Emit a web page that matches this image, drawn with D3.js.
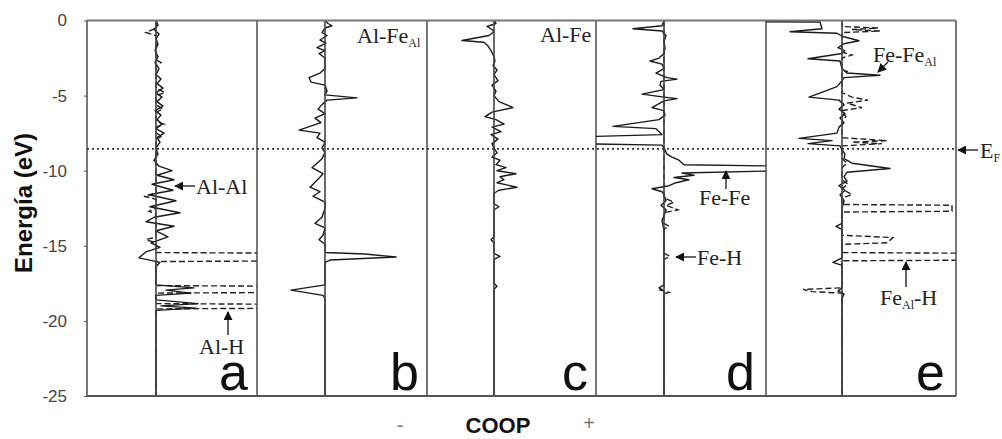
<!DOCTYPE html>
<html><head><meta charset="utf-8">
<script src="https://cdn.jsdelivr.net/npm/d3@7"></script>
<style>body{margin:0;background:#fff}svg{display:block}</style>
</head><body>
<script>
// ---------- data (energy eV, COOP value) ----------
const energyTicks = [0, -5, -10, -15, -20, -25];
const panelLetters = ['a', 'b', 'c', 'd', 'e'];
const fermiLevel = -8.55;

const solidA = [[0,0],[-0.3,0.02],[-0.6,-0.02],[-0.9,0.03],[-1.2,0],[-1.6,0.02],[-2,-0.01],[-2.4,0.02],[-2.8,-0.01],[-3.2,0.03],[-3.6,0],[-3.9,0.05],[-4.2,0.01],[-4.5,0.07],[-4.8,0],[-5.1,0.06],[-5.4,0.01],[-5.7,0.07],[-6,-0.01],[-6.3,0.05],[-6.6,0.01],[-6.9,0.06],[-7.2,0],[-7.5,0.08],[-7.8,0.01],[-8.1,0.04],[-8.5,0],[-8.9,0.02],[-9.3,-0.02],[-9.7,0.03],[-10,0.16],[-10.3,0.01],[-10.6,0.18],[-10.9,-0.04],[-11.3,0.17],[-11.6,-0.07],[-12,0.2],[-12.4,-0.06],[-12.8,0.24],[-13.1,-0.02],[-13.4,-0.1],[-13.7,0.18],[-14,0],[-14.4,0.12],[-14.8,-0.05],[-15.1,0.04],[-15.4,-0.1],[-15.8,-0.17],[-16.1,0.04],[-16.4,0],[-17.6,0],[-17.8,0.38],[-17.95,0.1],[-18.15,0.35],[-18.3,0],[-18.6,0],[-18.85,0.42],[-19.0,0.05],[-19.15,0.4],[-19.3,0],[-25,0]];
const dashedA = [[0,0],[-0.5,0],[-0.8,-0.1],[-1.0,0],[-2.6,0],[-2.8,0.05],[-3.0,0],[-4.5,0],[-4.8,0.09],[-5.0,0],[-5.6,0],[-5.9,0.07],[-6.1,0],[-6.7,0],[-6.9,0.08],[-7.1,0],[-7.5,0],[-7.7,0.06],[-7.9,0],[-11.5,0],[-11.7,-0.12],[-11.9,0],[-12.5,0],[-12.7,-0.07],[-12.9,0],[-14.4,0],[-14.6,-0.1],[-14.8,0],[-15.45,0],[-15.5,1.5],[-16.0,1.5],[-16.05,0],[-17.65,0],[-17.7,1.5],[-18.1,1.5],[-18.15,0],[-18.85,0],[-18.9,1.5],[-19.15,1.5],[-19.2,0],[-25,0]];

const solidB = [[0,0],[-0.2,0.03],[-0.35,0.07],[-0.5,0],[-0.8,-0.03],[-1.0,0.02],[-1.3,-0.05],[-1.5,0.01],[-1.8,-0.08],[-2.0,0],[-2.2,-0.06],[-2.5,0],[-3.2,0],[-3.5,-0.05],[-3.8,-0.16],[-4.1,-0.14],[-4.3,0],[-4.7,0.02],[-4.95,0],[-5.15,0.32],[-5.3,0.02],[-5.6,-0.03],[-5.9,-0.07],[-6.2,0],[-6.5,-0.1],[-6.8,-0.04],[-7.3,-0.26],[-7.5,-0.05],[-7.8,-0.08],[-8.1,0],[-8.5,-0.03],[-8.8,0],[-9.2,-0.03],[-9.8,-0.13],[-10.2,-0.02],[-10.5,-0.06],[-11.1,-0.15],[-11.4,-0.05],[-11.7,-0.12],[-12.1,0],[-12.5,0],[-13.1,-0.03],[-13.5,-0.1],[-13.8,0],[-14.3,-0.02],[-14.6,-0.06],[-14.9,0],[-15.45,0],[-15.55,0.4],[-15.75,0.71],[-15.95,0.05],[-16.1,0],[-17.6,0],[-17.95,-0.34],[-18.3,-0.02],[-18.5,0],[-25,0]];

const solidC = [[0,0],[-0.2,0.02],[-0.4,-0.07],[-0.6,-0.02],[-0.75,0],[-1.0,-0.05],[-1.33,-0.32],[-1.45,-0.1],[-1.7,-0.06],[-2.0,-0.03],[-2.4,0],[-2.7,0.01],[-3.0,-0.01],[-3.3,0.03],[-3.6,0],[-4.0,0.04],[-4.3,-0.02],[-4.7,0.02],[-5.0,0],[-5.4,0.05],[-5.8,0.19],[-6.1,-0.02],[-6.4,-0.09],[-6.6,0.02],[-6.9,0.1],[-7.1,-0.02],[-7.4,0.07],[-7.6,-0.03],[-7.9,0.04],[-8.2,-0.02],[-8.5,0],[-8.8,0.03],[-9.1,-0.02],[-9.3,0.06],[-9.6,0.02],[-9.8,0.12],[-10.0,0.03],[-10.2,0.22],[-10.4,0.06],[-10.6,0.1],[-10.8,0.03],[-11.1,0.23],[-11.3,0.05],[-11.5,0],[-12.2,0],[-12.4,0.05],[-12.6,0],[-14.4,0],[-14.6,-0.03],[-14.8,0],[-15.5,0],[-15.7,0.06],[-15.9,0],[-17.5,0],[-17.7,0.03],[-17.9,0],[-25,0]];

const solidD = [[0,0],[-0.35,-0.02],[-0.55,-0.31],[-0.7,-0.02],[-1.0,0.02],[-1.4,0],[-1.8,0.01],[-2.2,0],[-2.5,-0.05],[-2.7,-0.14],[-2.9,-0.02],[-3.2,0],[-3.5,-0.08],[-3.8,0.03],[-3.9,0.13],[-4.05,-0.03],[-4.3,-0.04],[-4.6,0],[-4.9,-0.22],[-5.1,0],[-5.2,0.13],[-5.35,0],[-5.8,-0.12],[-6.0,0],[-6.3,0.01],[-6.6,-0.05],[-7.05,-0.51],[-7.2,-0.08],[-7.4,-0.05],[-7.6,-0.02],[-7.75,-0.9],[-8.2,-0.9],[-8.3,-0.02],[-8.5,0],[-8.9,0.03],[-9.1,0.08],[-9.3,0.15],[-9.6,0.2],[-9.7,1.2],[-10.0,1.2],[-10.15,0.18],[-10.3,0.3],[-10.45,0.1],[-10.6,0.25],[-10.8,0.12],[-11.0,0.05],[-11.2,-0.12],[-11.4,-0.02],[-11.6,0],[-12.0,0.02],[-12.3,-0.03],[-12.6,0.02],[-13.0,0],[-13.3,-0.02],[-14,0],[-17.6,0],[-17.8,-0.05],[-18.0,0],[-25,0]];
const dashedD = [[0,0],[-11.8,0],[-12.1,0.1],[-12.3,0.02],[-12.6,0.14],[-12.8,0],[-13.5,0],[-13.7,0.05],[-13.9,0],[-15.5,0],[-15.7,0.06],[-15.9,0],[-17.8,0],[-17.95,-0.04],[-18.1,0.05],[-18.2,0],[-25,0]];

const solidE = [[0,-0.95],[-0.08,-0.95],[-0.1,-0.22],[-0.55,-0.2],[-0.75,-0.52],[-0.85,-0.05],[-1.05,0],[-1.35,0.17],[-1.55,0.02],[-1.8,-0.04],[-2.0,0.03],[-2.2,0],[-2.55,-0.34],[-2.7,-0.02],[-3.2,0],[-3.5,0.05],[-3.65,0.38],[-3.8,0.02],[-4.0,0],[-4.4,-0.05],[-5.1,-0.33],[-5.3,-0.03],[-5.6,0.02],[-5.9,-0.03],[-6.2,0.03],[-6.5,-0.02],[-6.8,0.02],[-7.1,-0.03],[-7.5,-0.05],[-7.85,-0.43],[-8.0,-0.1],[-8.2,-0.34],[-8.35,-0.02],[-8.6,0],[-8.9,0.03],[-9.2,0.02],[-9.5,0.1],[-9.85,0.48],[-10.1,0.05],[-10.4,0.02],[-10.7,0.05],[-11.0,-0.03],[-11.3,0.03],[-11.6,-0.02],[-12,0.02],[-12.5,0],[-13.5,0],[-13.7,-0.06],[-13.9,0],[-15.8,0],[-16.1,-0.09],[-16.3,0],[-17.8,0],[-18.0,-0.04],[-18.2,0.02],[-18.5,0],[-25,0]];
const dashedE = [[0,0],[-0.4,0],[-0.5,0.36],[-0.6,0.1],[-0.7,0.38],[-0.8,0],[-2.1,0],[-2.3,0.1],[-2.5,0],[-3.3,0],[-3.4,0.06],[-3.5,0],[-4.8,0],[-5.1,0.1],[-5.3,0.26],[-5.5,0.05],[-5.8,0.2],[-6.0,0],[-6.4,0.04],[-6.7,0],[-7.8,0],[-8.0,0.45],[-8.1,0.1],[-8.2,0.4],[-8.35,0],[-9.2,0],[-9.5,0.05],[-9.8,0],[-10.6,0],[-10.9,0.06],[-11.2,0],[-11.6,0.1],[-11.8,0],[-12.25,0],[-12.3,1.1],[-12.7,1.1],[-12.75,0],[-14.3,0],[-14.45,0.51],[-14.8,0.45],[-14.9,0],[-15.45,0],[-15.5,1.4],[-15.95,1.4],[-16.0,0],[-17.8,0],[-17.9,-0.39],[-18.05,-0.3],[-18.15,0],[-25,0]];

// ---------- layout ----------
const W = 1002, H = 439;
const panels = [
  {left: 87,  right: 257, min: -0.69, max: 1.01, solid: solidA, dashed: dashedA, letterX: 248},
  {left: 257, right: 427, min: -0.68, max: 1.02, solid: solidB, dashed: null,    letterX: 419},
  {left: 427, right: 596, min: -0.67, max: 1.02, solid: solidC, dashed: null,    letterX: 588},
  {left: 596, right: 766, min: -0.68, max: 1.02, solid: solidD, dashed: dashedD, letterX: 755},
  {left: 766, right: 956, min: -0.76, max: 1.14, solid: solidE, dashed: dashedE, letterX: 945}
];
const yTop = 20.5, yBot = 396;

const svg = d3.select('body').append('svg').attr('width', W).attr('height', H);
svg.append('rect').attr('width', W).attr('height', H).attr('fill', '#fff');
const y = d3.scaleLinear().domain([0, -25]).range([yTop, yBot]);

const defs = svg.append('defs');
defs.append('marker').attr('id', 'arr').attr('viewBox', '0 0 10 10')
  .attr('refX', 9).attr('refY', 5).attr('markerWidth', 9).attr('markerHeight', 9)
  .attr('markerUnits', 'userSpaceOnUse').attr('orient', 'auto')
  .append('path').attr('d', 'M0,0 L10,5 L0,10 Z').attr('fill', '#111');

panels.forEach((p, i) => {
  const x = d3.scaleLinear().domain([p.min, p.max]).range([p.left, p.right]);
  defs.append('clipPath').attr('id', 'clip' + i).append('rect')
    .attr('x', p.left).attr('y', yTop).attr('width', p.right - p.left).attr('height', yBot - yTop);
  const line = d3.line().x(d => x(d[1])).y(d => y(d[0]));
  const g = svg.append('g').attr('clip-path', `url(#clip${i})`);
  if (p.dashed) {
    g.append('path').datum(p.dashed).attr('d', line).attr('fill', 'none')
      .attr('stroke', '#222').attr('stroke-width', 1.4).attr('stroke-dasharray', '6,3');
  }
  g.append('path').datum(p.solid).attr('d', line).attr('fill', 'none')
    .attr('stroke', '#1a1a1a').attr('stroke-width', 1.4).attr('stroke-linejoin', 'round');
  svg.append('line').attr('x1', x(0)).attr('x2', x(0)).attr('y1', yTop).attr('y2', yBot)
    .attr('stroke', '#444').attr('stroke-width', 1.6);
  svg.append('line').attr('x1', p.right).attr('x2', p.right).attr('y1', yTop).attr('y2', yBot)
    .attr('stroke', '#555').attr('stroke-width', 1.6);
  svg.append('text').attr('x', p.letterX).attr('y', 390).attr('text-anchor', 'end')
    .attr('font-family', 'Liberation Sans, Arial, sans-serif').attr('font-size', 52)
    .attr('fill', '#111').text(panelLetters[i]);
});

// frame
svg.append('line').attr('x1', 87).attr('x2', 956).attr('y1', yTop).attr('y2', yTop).attr('stroke', '#777').attr('stroke-width', 2);
svg.append('line').attr('x1', 87).attr('x2', 956).attr('y1', yBot).attr('y2', yBot).attr('stroke', '#555').attr('stroke-width', 1.8);
svg.append('line').attr('x1', 87).attr('x2', 87).attr('y1', yTop).attr('y2', yBot).attr('stroke', '#555').attr('stroke-width', 1.6);

// Fermi level
svg.append('line').attr('x1', 87).attr('x2', 956).attr('y1', y(fermiLevel)).attr('y2', y(fermiLevel))
  .attr('stroke', '#333').attr('stroke-width', 1.6).attr('stroke-dasharray', '2,3');

// y axis
const yAxis = svg.append('g').attr('transform', 'translate(87,0)')
  .call(d3.axisLeft(y).tickValues(energyTicks).tickSize(3).tickPadding(17).tickFormat(d => String(d)));
yAxis.select('.domain').remove();
yAxis.selectAll('line').attr('stroke', '#555');
yAxis.selectAll('text').attr('font-family', 'Liberation Sans, Arial, sans-serif').attr('font-size', 17).attr('fill', '#444');

svg.append('text').attr('transform', 'translate(32,203) rotate(-90)').attr('text-anchor', 'middle')
  .attr('font-family', 'Liberation Sans, Arial, sans-serif').attr('font-weight', 'bold').attr('font-size', 24)
  .attr('fill', '#111').text('Energía (eV)');

svg.append('text').attr('x', 498).attr('y', 433).attr('text-anchor', 'middle')
  .attr('font-family', 'Liberation Sans, Arial, sans-serif').attr('font-weight', 'bold').attr('font-size', 22)
  .attr('fill', '#111').text('COOP');
svg.append('text').attr('x', 400).attr('y', 432).attr('text-anchor', 'middle')
  .attr('font-family', 'Liberation Sans, Arial, sans-serif').attr('font-size', 20).attr('fill', '#777').text('-');
svg.append('text').attr('x', 589).attr('y', 430).attr('text-anchor', 'middle')
  .attr('font-family', 'Liberation Sans, Arial, sans-serif').attr('font-size', 20).attr('fill', '#777').text('+');

// annotations
function label(xp, yp, parts) {
  const t = svg.append('text').attr('x', xp).attr('y', yp)
    .attr('font-family', 'Liberation Serif, Times New Roman, serif').attr('font-size', 22).attr('fill', '#222');
  parts.forEach(pt => {
    if (typeof pt === 'string') t.append('tspan').text(pt);
    else {
      t.append('tspan').attr('font-size', 12).attr('dy', 4).text(pt.sub);
      if (pt.after) t.append('tspan').attr('dy', -4).attr('font-size', 22).text(pt.after);
    }
  });
}
function arrow(x1, y1, x2, y2) {
  svg.append('line').attr('x1', x1).attr('y1', y1).attr('x2', x2).attr('y2', y2)
    .attr('stroke', '#111').attr('stroke-width', 1.3).attr('marker-end', 'url(#arr)');
}
label(196, 194, ['Al-Al']);           arrow(195, 186, 175, 186);
label(199, 354, ['Al-H']);            arrow(228, 335, 228, 312);
label(357, 43, ['Al-Fe', {sub: 'Al'}]);
label(540, 42, ['Al-Fe']);
label(699, 205, ['Fe-Fe']);           arrow(726, 189, 726, 171);
label(697, 265, ['Fe-H']);            arrow(696, 257, 676, 257);
label(873, 62, ['Fe-Fe', {sub: 'Al'}]); arrow(888, 62, 878, 72);
label(880, 305, ['Fe', {sub: 'Al', after: '-H'}]); arrow(906, 287, 906, 262);
label(980, 158, ['E', {sub: 'F'}]);   arrow(978, 150, 958, 150);
</script>
</body></html>
